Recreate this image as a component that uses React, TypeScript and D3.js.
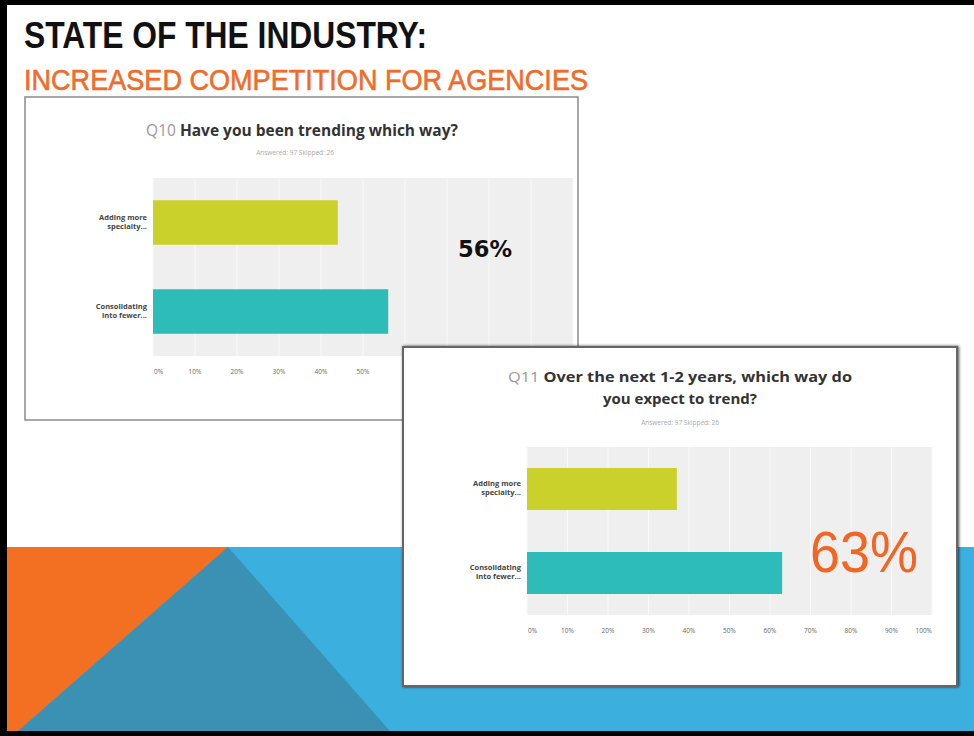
import React from "react";
import * as d3 from "d3";

// chart data
const categories = ["Adding more specialty...", "Consolidating into fewer..."];
const categoryLines = [["Adding more", "specialty..."], ["Consolidating", "into fewer..."]];
const q10Values = [44, 56];
const q11Values = [37, 63];
const tickValues = [0, 10, 20, 30, 40, 50, 60, 70, 80, 90, 100];
const barColors = ["#cbd12b", "#2dbcb8"];
const answeredText = "Answered: 97    Skipped: 26";

const W = 974;
const H = 736;

function Panel({ left, right, top, bottom, values, labelLimit = Infinity }) {
  const x = d3.scaleLinear().domain([0, 100]).range([left, right]);
  const y = d3.scaleBand().domain(categories).range([top, bottom]).paddingInner(0.5).paddingOuter(0.25);
  // the Q10 card is partly covered by the Q11 card, so its hidden tick labels are left out
  const shownTicks = tickValues.filter(t => x(t) < labelLimit);

  return (
    <g>
      <rect x={left} y={top} width={right - left} height={bottom - top} fill="#efefef" />
      {tickValues.map(t => (
        <line key={t} x1={x(t)} x2={x(t)} y1={top} y2={bottom} stroke="#f9f9f9" strokeWidth={1} />
      ))}
      {categories.map((c, i) => (
        <rect key={c} x={x(0)} y={y(c)} width={x(values[i]) - x(0)} height={y.bandwidth()} fill={barColors[i]} />
      ))}
      {categories.map((c, i) => (
        <text key={c} x={left - 6} y={y(c) + y.bandwidth() / 2 - 3} textAnchor="end"
          fontFamily="Open Sans, sans-serif" fontWeight="bold" fontSize={7.5} fill="#444">
          <tspan x={left - 6}>{categoryLines[i][0]}</tspan>
          <tspan x={left - 6} dy={9}>{categoryLines[i][1]}</tspan>
        </text>
      ))}
      {shownTicks.map((t, i) => (
        <text key={t} x={i === 0 ? x(t) + 1 : x(t)} y={bottom + 18}
          textAnchor={t === 0 ? "start" : t === 100 ? "end" : "middle"}
          fontFamily="Open Sans, sans-serif" fontSize={6.5} fill="#666">{t + "%"}</text>
      ))}
    </g>
  );
}

export default function App() {
  return (
    <svg width={W} height={H} style={{ position: "absolute", left: 0, top: 0 }}>
      <defs>
        <filter id="shadow" x="-5%" y="-5%" width="110%" height="110%">
          <feDropShadow dx="1" dy="0" stdDeviation="1.5" floodColor="#000" floodOpacity="0.7" />
        </filter>
      </defs>
      <rect x={0} y={0} width={W} height={H} fill="#000" />
      <rect x={7} y={5} width={W - 7} height={726} fill="#fff" />

      {/* background shapes */}
      <rect x={7} y={547} width={W - 7} height={184} fill="#3bb0de" />
      <polygon points="7,547 228,547 18,731 7,731" fill="#f36f21" />
      <polygon points="228,547 18,731 390,731" fill="#3a91b3" />

      {/* headings */}
      <text x={24} y={48} fontFamily="Liberation Sans Narrow, Arial Narrow, sans-serif" fontWeight="bold"
        fontSize={36} fill="#111" textLength={403} lengthAdjust="spacingAndGlyphs">STATE OF THE INDUSTRY:</text>
      <text x={24} y={90} fontFamily="Liberation Sans Narrow, Arial Narrow, sans-serif"
        fontSize={30} fill="#ef6c2a" stroke="#ef6c2a" strokeWidth={0.6}
        textLength={564} lengthAdjust="spacingAndGlyphs">INCREASED COMPETITION FOR AGENCIES</text>

      {/* Q10 card */}
      <rect x={25} y={97} width={553} height={323} fill="#fff" stroke="#8c8c8c" strokeWidth={1.5} />
      <text x={302} y={136} textAnchor="middle" fontFamily="Open Sans, sans-serif" fontSize={15.5} fill="#333">
        <tspan fill="#999">Q10 </tspan>
        <tspan fontWeight="bold">Have you been trending which way?</tspan>
      </text>
      <text x={295} y={155} textAnchor="middle" fontFamily="Open Sans, sans-serif" fontSize={6.5} fill="#aaa">{answeredText}</text>
      <Panel left={153} right={573} top={178} bottom={356} values={q10Values} labelLimit={403} />
      <text x={485} y={257} textAnchor="middle" fontFamily="DejaVu Sans, sans-serif" fontWeight="bold"
        fontSize={23} fill="#111" textLength={54} lengthAdjust="spacingAndGlyphs">56%</text>

      {/* Q11 card */}
      <rect x={403} y={347} width={554} height={339} fill="#fff" stroke="#666" strokeWidth={2} filter="url(#shadow)" />
      <text x={680} y={382} textAnchor="middle" fontFamily="Open Sans, sans-serif" fontSize={15} fill="#333"
        textLength={344} lengthAdjust="spacingAndGlyphs">
        <tspan fill="#999">Q11 </tspan>
        <tspan fontWeight="bold">Over the next 1-2 years, which way do</tspan>
      </text>
      <text x={680} y={404} textAnchor="middle" fontFamily="Open Sans, sans-serif" fontSize={15} fontWeight="bold" fill="#333">you expect to trend?</text>
      <text x={680} y={425} textAnchor="middle" fontFamily="Open Sans, sans-serif" fontSize={6.5} fill="#aaa">{answeredText}</text>
      <Panel left={527} right={932} top={447} bottom={615} values={q11Values} />
      <text x={864} y={572} textAnchor="middle" fontFamily="Liberation Sans, Arial, sans-serif"
        fontSize={57} fill="#f26522" textLength={108} lengthAdjust="spacingAndGlyphs">63%</text>
    </svg>
  );
}
